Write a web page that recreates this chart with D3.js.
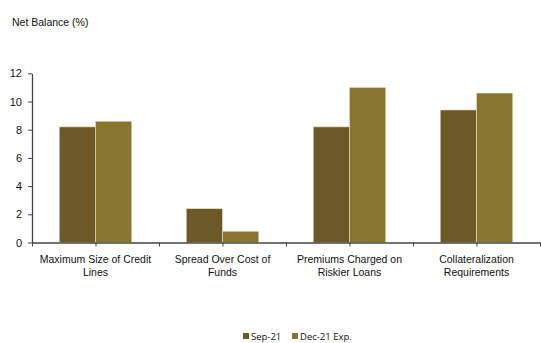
<!DOCTYPE html>
<html>
<head>
<meta charset="utf-8">
<script src="https://cdn.jsdelivr.net/npm/d3@7"></script>
<style>
  html, body { margin: 0; padding: 0; background: #fff; }
  svg { display: block; font-family: "Liberation Sans", Arial, sans-serif; }
</style>
</head>
<body>
<svg id="chart" width="541" height="343"></svg>
<script>
// Net balance of lending conditions, by term
const categories = [
  ["Maximum Size of Credit", "Lines"],
  ["Spread Over Cost of", "Funds"],
  ["Premiums Charged on", "Riskier Loans"],
  ["Collateralization", "Requirements"]
];
const seriesNames = ["Sep-21", "Dec-21 Exp."];
const sep21 = [8.2, 2.4, 8.2, 9.4];
const dec21 = [8.6, 0.8, 11.0, 10.6];
const yTicks = [0, 2, 4, 6, 8, 10, 12];
const colors = ["#6b5a27", "#88752f"];

const svg = d3.select("#chart");
const margin = { left: 32, right: 1 };
const W = 541;
const plotBottom = 242.5;

const keys = categories.map((c, i) => i);
const x = d3.scaleBand().domain(keys).range([margin.left, W - margin.right]).paddingInner(0).paddingOuter(0);
const xInner = d3.scaleBand().domain([0, 1]).range([0, x.bandwidth()]).paddingInner(0).paddingOuter(0.75);
const y = d3.scaleLinear().domain([0, 12]).range([plotBottom, 73.3]);

// Title
svg.append("text")
  .attr("x", 12).attr("y", 26)
  .attr("font-size", 10.5).attr("fill", "#111")
  .text("Net Balance (%)");

// Bars
const data = [sep21, dec21];
const groups = svg.append("g");
keys.forEach(i => {
  data.forEach((vals, s) => {
    groups.append("rect")
      .attr("x", x(i) + xInner(s))
      .attr("y", y(vals[i]))
      .attr("width", xInner.bandwidth())
      .attr("height", y(0) - y(vals[i]))
      .attr("fill", colors[s])
      .attr("stroke", "#e8e2c8")
      .attr("stroke-width", 0.6);
  });
});

// Y axis
const yAxis = d3.axisLeft(y).tickValues(yTicks).tickSize(4).tickPadding(6).tickSizeOuter(0);
const gy = svg.append("g").attr("transform", `translate(${margin.left},0)`).call(yAxis);
gy.select(".domain").attr("stroke", "#444").attr("stroke-width", 1.3);
gy.selectAll(".tick line").attr("stroke", "#444");
gy.selectAll(".tick text").attr("font-size", 11).attr("fill", "#111")
  .attr("font-family", "Liberation Sans, Arial, sans-serif");

// X axis with ticks at group edges and centres
const xs = d3.scaleLinear().domain([0, categories.length]).range([margin.left, W - margin.right]);
const halfSteps = d3.range(0, categories.length + 0.5, 0.5);
const xAxis = d3.axisBottom(xs).tickValues(halfSteps).tickSize(4).tickFormat("").tickSizeOuter(0);
const gx = svg.append("g").attr("transform", `translate(0,${plotBottom})`).call(xAxis);
gx.select(".domain").attr("stroke", "#444").attr("stroke-width", 1.6);
gx.selectAll(".tick line").attr("stroke", "#444");

// Category labels
keys.forEach(i => {
  const cx = x(i) + x.bandwidth() / 2;
  const t = svg.append("text")
    .attr("text-anchor", "middle")
    .attr("font-size", 10.5).attr("fill", "#111");
  categories[i].forEach((line, k) => {
    t.append("tspan").attr("x", cx).attr("y", 263 + k * 13).text(line);
  });
});

// Legend
const legendItems = [
  { x: 243, name: seriesNames[0], color: colors[0] },
  { x: 292, name: seriesNames[1], color: colors[1] }
];
legendItems.forEach(d => {
  svg.append("rect").attr("x", d.x).attr("y", 333).attr("width", 6).attr("height", 6).attr("fill", d.color);
  svg.append("text").attr("x", d.x + 8).attr("y", 339.5)
    .attr("font-size", 9.5).attr("fill", "#111")
    .attr("font-family", "'Open Sans', Lato, sans-serif")
    .text(d.name);
});
</script>
</body>
</html>
